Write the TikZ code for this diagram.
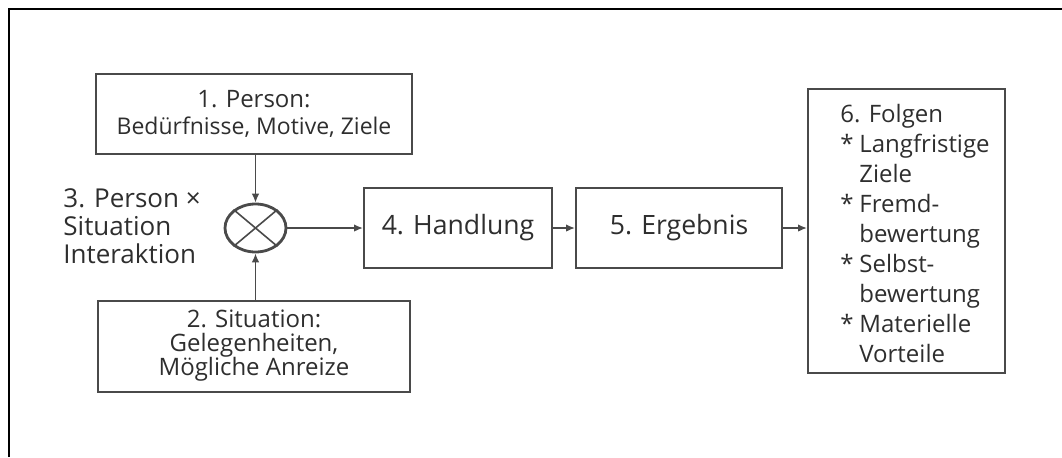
\documentclass[tikz,border=0pt]{standalone}
\usepackage{fontspec}
\setmainfont{Open Sans}
\usetikzlibrary{arrows.meta,shapes.geometric}
\definecolor{ink}{HTML}{2E2E2E}
\definecolor{rule}{HTML}{4A4A4A}
\newcommand{\itm}[1]{\makebox[9.5pt][l]{*}#1}
\newcommand{\cnt}[1]{\makebox[9.5pt][l]{}#1}
\begin{document}
\begin{tikzpicture}[x=0.5pt, y=-0.5pt,
    box/.style={draw=rule, line width=1pt, rectangle, inner sep=0pt, text=ink, align=center},
    mixer/.style={draw=rule, line width=1.4pt, ellipse, inner sep=0pt, minimum width=30.5pt, minimum height=24pt},
    flow/.style={draw=rule, line width=0.8pt, -{Latex[length=4.5pt, width=3.8pt]}},
    ttl/.style={font=\fontsize{13.3}{14}\selectfont}]
  \useasboundingbox (0, 0) rectangle (1062, 457);
  % frame, only top and left are visible
  \draw[line width=0.6pt] (9, 457) to (9, 9) to (1062, 9);

  \node[box, minimum width=158pt, minimum height=40pt] (person) at (254, 114)
    {{\fontsize{12}{15}\selectfont 1. Person:}\\[1.5pt]
     {\fontsize{11.5}{15}\selectfont Bedürfnisse, Motive, Ziele}};
  \node[box, minimum width=156pt, minimum height=45.5pt] (situation) at (254, 346)
    {{\fontsize{12}{12.5}\selectfont 2. Situation:}\\
     {\fontsize{12}{12.5}\selectfont Gelegenheiten,}\\
     {\fontsize{12}{12.5}\selectfont Mögliche Anreize}};
  \node[mixer] (mix) at (255.5, 228) {};
  \draw[rule, line width=0.8pt] (mix.40) to (mix.220);
  \draw[rule, line width=0.8pt] (mix.140) to (mix.320);
  \node[text=ink, align=left, anchor=west, inner sep=0pt, font=\fontsize{13}{14}\selectfont] (inter) at (63, 226)
    {3. Person ×\\Situation\\Interaktion};

  \node[box, ttl, minimum width=94pt, minimum height=40pt] (act) at (458, 228) {4. Handlung};
  \node[box, ttl, minimum width=103pt, minimum height=40pt] (res) at (679, 228) {5. Ergebnis};
  \node[box, minimum width=98.5pt, minimum height=142pt] (cons) at (906.5, 231) {};
  \node[text=ink, align=left, anchor=north west, inner sep=0pt, font=\fontsize{12}{15}\selectfont] (conslist) at (840, 104)
    {6. Folgen\\
     \itm{Langfristige}\\
     \cnt{Ziele}\\
     \itm{Fremd-}\\
     \cnt{bewertung}\\
     \itm{Selbst-}\\
     \cnt{bewertung}\\
     \itm{Materielle}\\
     \cnt{Vorteile}};

  \draw[flow] (person.south -| mix) to (mix.north);
  \draw[flow] (situation.north -| mix) to (mix.south);
  \draw[flow] (mix.east) to (act.west);
  \draw[flow] (act.east) to (res.west);
  \draw[flow] (res.east) to (res.east -| cons.west);
\end{tikzpicture}
\end{document}
